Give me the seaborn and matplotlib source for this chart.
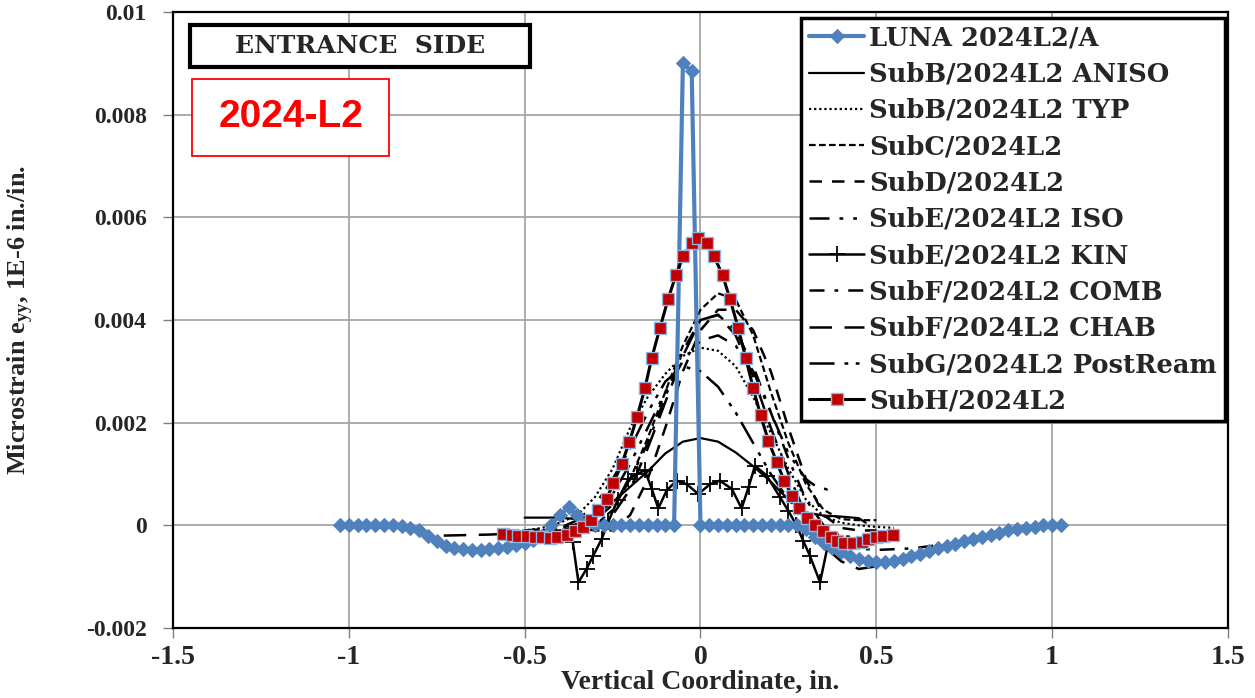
import matplotlib
matplotlib.use("Agg")
import matplotlib.pyplot as plt
import seaborn as sns
from matplotlib.patches import Rectangle
from matplotlib.ticker import FuncFormatter

# ---------------- data ----------------
luna_x = [-1.025, -1.0, -0.975, -0.95, -0.925, -0.9, -0.875, -0.85, -0.825, -0.8,
          -0.775, -0.75, -0.725, -0.7, -0.675, -0.65, -0.625, -0.6, -0.575, -0.55,
          -0.525, -0.5, -0.475, -0.45, -0.425, -0.4, -0.375, -0.35, -0.325, -0.3,
          -0.275, -0.25, -0.225, -0.2, -0.175, -0.15, -0.125, -0.1, -0.075, -0.05,
          -0.025, 0.0, 0.025, 0.05, 0.075, 0.1, 0.125, 0.15, 0.175, 0.2,
          0.225, 0.25, 0.275, 0.3, 0.325, 0.35, 0.375, 0.4, 0.425, 0.45,
          0.475, 0.5, 0.525, 0.55, 0.575, 0.6, 0.625, 0.65, 0.675, 0.7,
          0.725, 0.75, 0.775, 0.8, 0.825, 0.85, 0.875, 0.9, 0.925, 0.95,
          0.975, 1.0, 1.025]
luna_y = [0.0, 0.0, 0.0, 0.0, 0.0, 0.0, 0.0, -0.00002, -0.00005, -0.0001,
          -0.0002, -0.0003, -0.0004, -0.00044, -0.00046, -0.00048, -0.00048, -0.00047, -0.00045, -0.00042,
          -0.00039, -0.00035, -0.00029, -0.0002, 0.0, 0.0002, 0.00035, 0.0002, 0.00005, 0.0,
          0.0, 0.0, 0.0, 0.0, 0.0, 0.0, 0.0, 0.0, 0.0, 0.009,
          0.00885, 0.0, 0.0, 0.0, 0.0, 0.0, 0.0, 0.0, 0.0, 0.0,
          0.0, 0.0, 0.0, -0.00008, -0.00022, -0.00035, -0.00045, -0.00052, -0.00059, -0.00065,
          -0.0007, -0.00072, -0.00072, -0.0007, -0.00066, -0.0006, -0.00056, -0.0005, -0.00044, -0.0004,
          -0.00036, -0.00031, -0.00027, -0.00022, -0.00018, -0.00014, -0.0001, -0.00007, -0.00005, -0.00003,
          0.0, 0.0, 0.0]

anisoB_x = [-0.5, -0.45, -0.4, -0.35, -0.3, -0.25, -0.2, -0.15, -0.1, -0.05, 0.0,
            0.05, 0.1, 0.15, 0.2, 0.25, 0.3, 0.35, 0.4, 0.45, 0.47]
anisoB_y = [0.00015, 0.00015, 0.00015, 0.00012, 0.0002, 0.00045, 0.00075, 0.00105, 0.0014, 0.00163, 0.0017,
            0.00163, 0.00142, 0.00115, 0.00085, 0.0005, 0.00025, 0.00019, 0.00017, 0.00014, 0.00005]

typB_x = [-0.55, -0.5, -0.45, -0.4, -0.35, -0.3, -0.25, -0.2, -0.15, -0.1, -0.05, 0.0,
          0.05, 0.1, 0.15, 0.2, 0.25, 0.3, 0.35, 0.4, 0.45, 0.5, 0.55]
typB_y = [-0.00012, -0.0001, -0.00005, 0.00005, 0.0002, 0.00055, 0.0011, 0.0019, 0.0025, 0.00295, 0.0033, 0.00346,
          0.0034, 0.0031, 0.0025, 0.0018, 0.0011, 0.0005, 0.00018, 0.00005, 0.0, -0.00003, -0.00005]

subC_x = [-0.45, -0.4, -0.35, -0.3, -0.25, -0.2, -0.15, -0.1, -0.05, 0.0,
          0.05, 0.1, 0.15, 0.2, 0.25, 0.3, 0.35, 0.4, 0.45, 0.5]
subC_y = [-0.00015, -0.00012, -0.00008, 0.0, 0.0003, 0.0009, 0.0017, 0.0026, 0.0035, 0.0042,
          0.00452, 0.0044, 0.0037, 0.0026, 0.0016, 0.0008, 0.0003, 0.00012, 0.0001, 0.0001]

subD_x = [-0.45, -0.4, -0.35, -0.3, -0.25, -0.2, -0.15, -0.1, -0.05, 0.0,
          0.05, 0.1, 0.15, 0.2, 0.25, 0.3, 0.35, 0.4, 0.45, 0.5]
subD_y = [-0.0001, -0.00008, -0.00005, -0.0001, -0.0001, 0.0002, 0.0009, 0.0019, 0.003, 0.0038,
          0.0042, 0.0042, 0.0038, 0.003, 0.0019, 0.0009, 0.0002, -0.00005, -0.0001, -0.0001]

isoE_x = [-0.5, -0.4, -0.35, -0.3, -0.25, -0.2, -0.15, -0.1, -0.05, 0.0,
          0.05, 0.1, 0.15, 0.2, 0.25, 0.3, 0.33, 0.36, 0.38]
isoE_y = [-0.00015, -0.0001, 0.0, 0.0002, 0.0006, 0.0012, 0.0019, 0.0026, 0.0032, 0.0036,
          0.0037, 0.0035, 0.003, 0.0022, 0.0014, 0.0009, 0.00075, 0.0007, 0.0008]

kinE_x = [-0.363, -0.347, -0.324, -0.305, -0.281, -0.263, -0.235, -0.205, -0.18, -0.158,
          -0.138, -0.12, -0.096, -0.068, -0.039, -0.006, 0.027, 0.055, 0.089, 0.117,
          0.137, 0.155, 0.188, 0.226, 0.25, 0.273, 0.292, 0.311, 0.34, 0.363]
kinE_y = [-0.00033, -0.00111, -0.00085, -0.00059, -0.00027, 0.00006, 0.0005, 0.0009, 0.001, 0.00107,
          0.0007, 0.00033, 0.00068, 0.00087, 0.0008, 0.00061, 0.0008, 0.00087, 0.00071, 0.00033,
          0.00075, 0.00116, 0.00097, 0.00055, 0.00028, 0.0, -0.0003, -0.00059, -0.00111, -0.00036]

combF_x = [-0.5, -0.4, -0.3, -0.25, -0.2, -0.15, -0.1, -0.05, 0.0, 0.05, 0.1,
           0.15, 0.2, 0.25, 0.3, 0.35, 0.4, 0.45, 0.5, 0.6, 0.72]
combF_y = [-0.0001, -0.00005, 0.0001, 0.0004, 0.0009, 0.0016, 0.0025, 0.0034, 0.004, 0.0041, 0.0038,
           0.0031, 0.0022, 0.0013, 0.0005, 0.0, -0.0003, -0.00045, -0.00048, -0.00045, -0.00035]

chabF_x = [-0.73, -0.6, -0.5, -0.4, -0.3, -0.25, -0.2, -0.15, -0.1, -0.05, 0.0,
           0.05, 0.1, 0.15, 0.2, 0.25, 0.3, 0.35, 0.4, 0.45, 0.5, 0.6, 0.72]
chabF_y = [-0.0002, -0.00018, -0.00015, -0.0001, 0.0, 0.0002, 0.0007, 0.0015, 0.0024, 0.0033, 0.004,
           0.0041, 0.0037, 0.0029, 0.0019, 0.001, 0.0002, -0.0004, -0.0007, -0.00085, -0.0008, -0.0006, -0.00035]

postG_x = [-0.55, -0.45, -0.4, -0.35, -0.3, -0.25, -0.2, -0.15, -0.1, -0.05, 0.0,
           0.05, 0.1, 0.15, 0.2, 0.25, 0.3, 0.35, 0.4, 0.45, 0.5, 0.55]
postG_y = [-0.00015, -0.0001, -0.00005, 0.0001, 0.0004, 0.0009, 0.0015, 0.0022, 0.0028, 0.0031, 0.003,
           0.0027, 0.0022, 0.0016, 0.001, 0.0005, 0.00015, -0.0001, -0.0002, -0.00025, -0.00022, -0.0002]

subH_x = [-0.561, -0.537, -0.518, -0.494, -0.471, -0.452, -0.428, -0.407, -0.380, -0.357,
          -0.333, -0.312, -0.29, -0.267, -0.248, -0.224, -0.202, -0.18, -0.158, -0.139,
          -0.115, -0.092, -0.07, -0.049, -0.025, -0.006, 0.018, 0.038, 0.063, 0.084,
          0.107, 0.129, 0.150, 0.171, 0.193, 0.217, 0.238, 0.260, 0.281, 0.304,
          0.326, 0.349, 0.371, 0.389, 0.408, 0.433, 0.458, 0.477, 0.499, 0.518, 0.546]
subH_y = [-0.00017, -0.00019, -0.00021, -0.00021, -0.00023, -0.00023, -0.00025, -0.00023, -0.00019, -0.00012,
          -0.00003, 0.0001, 0.00029, 0.00051, 0.00082, 0.00119, 0.00163, 0.00212, 0.00267, 0.00325,
          0.00385, 0.00441, 0.00487, 0.00525, 0.0055, 0.0056, 0.0055, 0.00525, 0.00487, 0.00441,
          0.00385, 0.00325, 0.00267, 0.00214, 0.00165, 0.00123, 0.00087, 0.00058, 0.00034, 0.00014,
          0.0, -0.00012, -0.00023, -0.0003, -0.00034, -0.00034, -0.00033, -0.00027, -0.00023, -0.0002, -0.00018]

labels = ["LUNA 2024L2/A", "SubB/2024L2 ANISO", "SubB/2024L2 TYP", "SubC/2024L2",
          "SubD/2024L2", "SubE/2024L2 ISO", "SubE/2024L2 KIN", "SubF/2024L2 COMB",
          "SubF/2024L2 CHAB", "SubG/2024L2 PostReam", "SubH/2024L2"]

x_ticks = [-1.5, -1, -0.5, 0, 0.5, 1, 1.5]
y_ticks = [-0.002, 0, 0.002, 0.004, 0.006, 0.008, 0.01]

# ---------------- style ----------------
sns.set_theme(style="white")
plt.rcParams["font.family"] = ["Liberation Serif", "DejaVu Serif"]
plt.rcParams["font.weight"] = "bold"
plt.rcParams["mathtext.fontset"] = "custom"
plt.rcParams["mathtext.rm"] = "Liberation Serif:bold"
plt.rcParams["mathtext.bf"] = "Liberation Serif:bold"
plt.rcParams["mathtext.it"] = "Liberation Serif:bold"

fig = plt.figure(figsize=(12.55, 6.98), dpi=100)
ax = fig.add_axes([0.1378, 0.1003, 0.8407, 0.8825])

blk = "black"
series = [
    (luna_x, luna_y, dict(color="#4F81BD", lw=3, marker="D", markersize=7,
                          markeredgecolor="#4F81BD", zorder=5)),
    (anisoB_x, anisoB_y, dict(color=blk, lw=1.6, linestyle="-")),
    (typB_x, typB_y, dict(color=blk, lw=1.6, linestyle=(0, (1, 1.3)))),
    (subC_x, subC_y, dict(color=blk, lw=1.6, linestyle=(0, (3, 1.5)))),
    (subD_x, subD_y, dict(color=blk, lw=1.8, linestyle=(0, (5, 4)))),
    (isoE_x, isoE_y, dict(color=blk, lw=1.8, linestyle=(0, (8, 4, 1.5, 4, 1.5, 4)))),
    (kinE_x, kinE_y, dict(color=blk, lw=1.8, linestyle="-", marker="+", markersize=12,
                          markeredgecolor=blk, markeredgewidth=1.3)),
    (combF_x, combF_y, dict(color=blk, lw=1.8, linestyle=(0, (6, 4, 1.5, 4)))),
    (chabF_x, chabF_y, dict(color=blk, lw=1.8, linestyle=(0, (9, 5)))),
    (postG_x, postG_y, dict(color=blk, lw=1.8, linestyle=(0, (10, 4, 1.5, 3, 1.5, 3)))),
    (subH_x, subH_y, dict(color=blk, lw=2.2, marker="s", markersize=8,
                          markerfacecolor="#C00000", markeredgecolor="#8EB4E3",
                          markeredgewidth=1.0, zorder=6)),
]

for (xs, ys, kw), lab in zip(series, labels):
    sns.lineplot(x=xs, y=ys, ax=ax, label=lab, estimator=None, sort=False, **kw)

ax.set_xlim(-1.5, 1.5)
ax.set_ylim(-0.002, 0.01)
ax.set_xticks(x_ticks)
ax.set_yticks(y_ticks)
fmt = FuncFormatter(lambda v, p: "{:g}".format(round(v, 6)))
ax.xaxis.set_major_formatter(fmt)
ax.yaxis.set_major_formatter(fmt)
ax.grid(True, color="#a6a6a6", lw=1.3)
ax.set_axisbelow(True)
for s in ax.spines.values():
    s.set_color("black")
    s.set_linewidth(1.6)
ax.tick_params(axis="both", direction="out", length=7, width=1, color="#808080",
               bottom=True, left=True)
ax.tick_params(axis="y", labelsize=17, pad=12)
ax.tick_params(axis="x", labelsize=20, pad=5)
for t in ax.get_yticklabels() + ax.get_xticklabels():
    t.set_fontweight("bold")

ax.set_xlabel("Vertical Coordinate, in.", fontsize=20, fontweight="bold", labelpad=0)
ax.set_ylabel("Microstrain e$_{yy}$, 1E-6 in./in.", fontsize=19, fontweight="bold")
ax.yaxis.set_label_coords(-0.13, 0.5)

leg = ax.legend(loc="upper right", bbox_to_anchor=(0.997, 0.991), borderaxespad=0,
                prop={"family": "DejaVu Serif", "weight": "bold", "size": 18.5},
                numpoints=1, handlelength=2.15, handletextpad=0.2, labelspacing=0.44,
                frameon=True, fancybox=False, borderpad=0.3)
leg.get_frame().set_edgecolor("black")
leg.get_frame().set_linewidth(2.5)
leg.get_frame().set_alpha(1)

# ENTRANCE SIDE box
ax.add_patch(Rectangle((0.016, 0.911), 0.322, 0.068, transform=ax.transAxes,
                       fill=True, facecolor="white", edgecolor="black", lw=3, zorder=7))
ax.text(0.177, 0.945, "ENTRANCE  SIDE", transform=ax.transAxes, ha="center", va="center",
        fontsize=18, fontweight="bold", family="DejaVu Serif", zorder=8)
# 2024-L2 box
ax.add_patch(Rectangle((0.018, 0.766), 0.187, 0.125, transform=ax.transAxes,
                       fill=True, facecolor="white", edgecolor="#FF0000", lw=1.3, zorder=7))
ax.text(0.1115, 0.829, "2024-L2", transform=ax.transAxes, ha="center", va="center",
        fontsize=28, fontweight="bold", family="Liberation Sans", color="#FF0000", zorder=8)

fig.savefig("out.png", dpi=100)
